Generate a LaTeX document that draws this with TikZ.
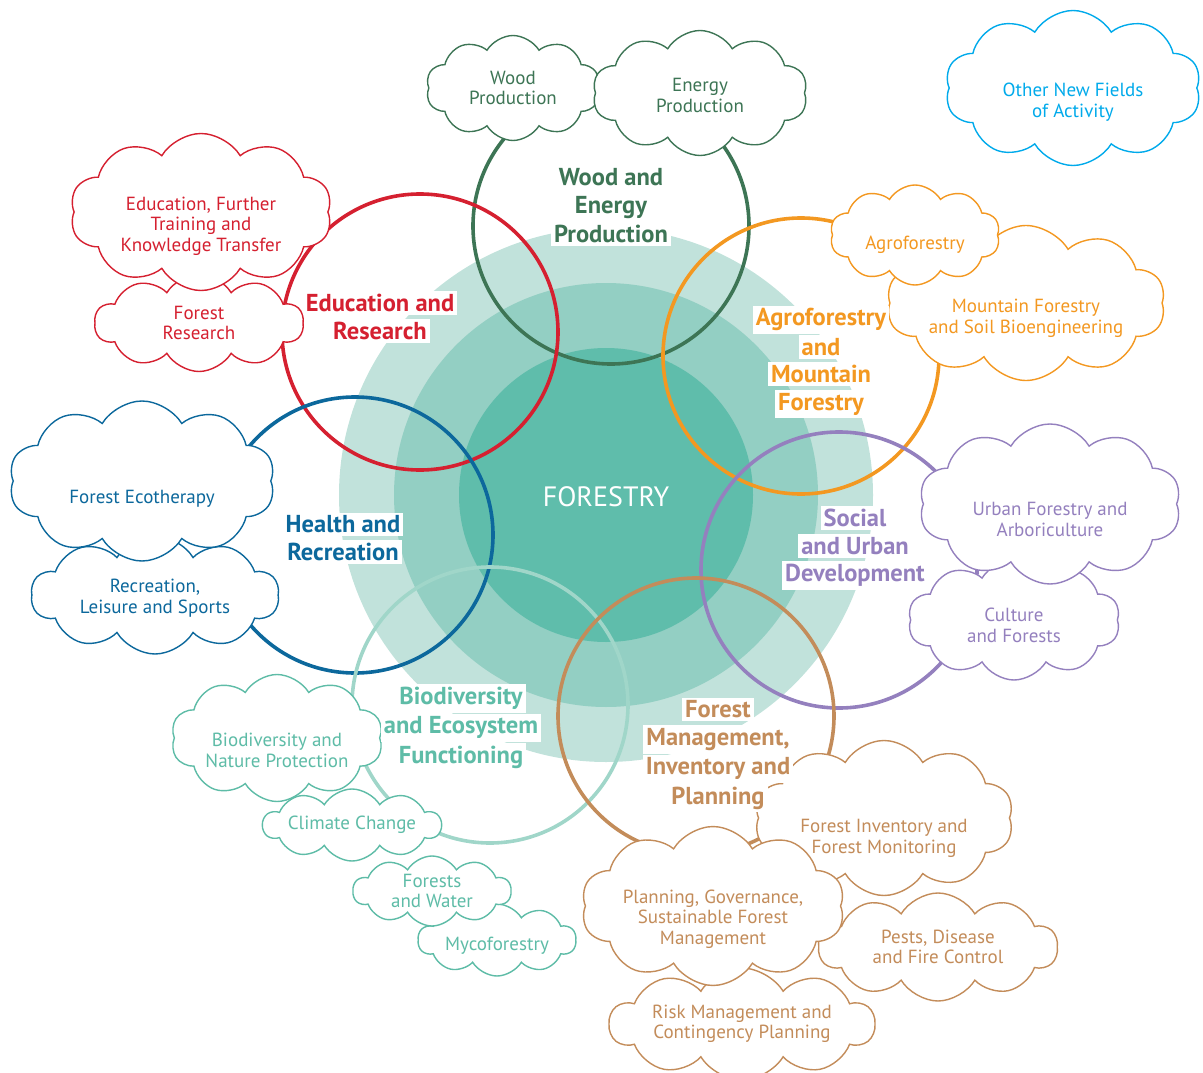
\documentclass[tikz,border=0pt]{standalone}
\usepackage{fontspec}
\setmainfont{PT Sans}
\usepackage{tikz}
\usetikzlibrary{shapes.symbols}

\definecolor{woodgreen}{RGB}{61,117,85}
\definecolor{edured}{RGB}{213,32,48}
\definecolor{agroorange}{RGB}{243,152,33}
\definecolor{healthblue}{RGB}{12,104,156}
\definecolor{socialpurple}{RGB}{148,128,190}
\definecolor{biotealring}{RGB}{160,214,201}
\definecolor{biotealtext}{RGB}{94,188,167}
\definecolor{managetan}{RGB}{195,140,90}
\definecolor{newsky}{RGB}{0,170,235}
\definecolor{disclight}{RGB}{193,226,219}
\definecolor{discmid}{RGB}{147,207,195}
\definecolor{discdark}{RGB}{95,189,171}

\newcommand{\wbox}[1]{\colorbox{white}{#1}}
\newcommand{\sink}[1]{\rule{0pt}{#1}}
\setlength{\fboxsep}{3pt}

\begin{document}
\begin{tikzpicture}[x=1pt, y=-1pt,
  disc/.style = {circle, inner sep=0pt},
  ring/.style = {circle, draw, line width=3.6pt, minimum size=276pt, inner sep=0pt},
  bubble/.style = {cloud, draw, fill=white, line width=1.4pt, cloud puffs=10, cloud puff arc=118, cloud ignores aspect, inner sep=0pt, align=center, font=\fontsize{19}{20.5}\selectfont},
  title/.style = {align=center, inner sep=0pt, font=\bfseries\fontsize{24.5}{27.5}\selectfont}]

\useasboundingbox (0,0) rectangle (1203,1073);

% centre
\node[disc, fill=disclight, minimum size=534pt] (outerdisc) at (606,495) {};
\node[disc, fill=discmid, minimum size=424pt] (middisc) at (606,495) {};
\node[disc, fill=discdark, minimum size=294pt] (innerdisc) at (606,495) {};
\node[text=white, font=\fontsize{28}{32}\selectfont] (forestry) at (606,497) {FORESTRY};

% rings
\node[ring, draw=woodgreen] (woodring) at (611,226) {};
\node[ring, draw=edured] (edring) at (420,332) {};
\node[ring, draw=agroorange] (agroring) at (801,356) {};
\node[ring, draw=healthblue] (healthring) at (355,535) {};
\node[ring, draw=socialpurple] (socialring) at (839,570) {};
\node[ring, draw=biotealring] (bioring) at (490,705) {};
\node[ring, draw=managetan] (managering) at (696,716) {};

% clouds
\node[bubble, draw=woodgreen, text=woodgreen, minimum width=174pt, minimum height=105pt] (woodprod) at (513,88) {Wood\\Production};
\node[bubble, draw=woodgreen, text=woodgreen, minimum width=215pt, minimum height=125pt] (energyprod) at (700,93) {\sink{18pt}Energy\\Production};
\node[bubble, draw=newsky, text=newsky, minimum width=256pt, minimum height=155pt] (otherfields) at (1073,88) {\sink{42pt}Other New Fields\\of Activity};

\node[bubble, draw=edured, text=edured, minimum width=209pt, minimum height=97pt] (research) at (199,323) {Forest\\Research};
\node[bubble, draw=edured, text=edured, minimum width=262pt, minimum height=157pt] (education) at (201,212) {\sink{42pt}Education, Further\\Training and\\Knowledge Transfer};

\node[bubble, draw=agroorange, text=agroorange, minimum width=262pt, minimum height=155pt] (mountain) at (1026,303) {\sink{44pt}Mountain Forestry\\and Soil Bioengineering};
\node[bubble, draw=agroorange, text=agroorange, minimum width=170pt, minimum height=100pt] (agro) at (915,235) {\sink{34pt}Agroforestry};

\node[bubble, draw=healthblue, text=healthblue, minimum width=248pt, minimum height=118pt] (recreation) at (155,595) {\sink{20pt}Recreation,\\Leisure and Sports};
\node[bubble, draw=healthblue, text=healthblue, minimum width=266pt, minimum height=160pt] (ecotherapy) at (142,481) {\sink{48pt}Forest Ecotherapy};

\node[bubble, draw=socialpurple, text=socialpurple, minimum width=212pt, minimum height=120pt] (culture) at (1014,620) {\sink{24pt}Culture\\and Forests};
\node[bubble, draw=socialpurple, text=socialpurple, minimum width=262pt, minimum height=160pt] (urban) at (1050,504) {\sink{44pt}Urban Forestry and\\Arboriculture};

\node[bubble, draw=biotealtext, text=biotealtext, minimum width=158pt, minimum height=72pt] (myco) at (497,940) {\sink{24pt}Mycoforestry};
\node[bubble, draw=biotealtext, text=biotealtext, minimum width=158pt, minimum height=70pt] (water) at (432,891) {Forests\\and Water};
\node[bubble, draw=biotealtext, text=biotealtext, minimum width=178pt, minimum height=72pt] (climate) at (352,825) {Climate Change};
\node[bubble, draw=biotealtext, text=biotealtext, minimum width=212pt, minimum height=127pt] (naturepro) at (277,738) {\sink{38pt}Biodiversity and\\Nature Protection};

\node[bubble, draw=managetan, text=managetan, minimum width=239pt, minimum height=108pt] (pests) at (938,947) {Pests, Disease\\and Fire Control};
\node[bubble, draw=managetan, text=managetan, minimum width=259pt, minimum height=155pt] (inventory) at (884,818) {\sink{54pt}Forest Inventory and\\Forest Monitoring};
\node[bubble, draw=managetan, text=managetan, minimum width=265pt, minimum height=112pt] (risk) at (742,1024) {Risk Management and\\Contingency Planning};
\node[bubble, draw=managetan, text=managetan, minimum width=252pt, minimum height=146pt] (planning) at (713,906) {\sink{40pt}Planning, Governance,\\Sustainable Forest\\Management};

% ring titles
\node[title, text=woodgreen] (woodlbl) at (611,206) {\wbox{Wood and}\\\wbox{Energy}\\\wbox{Production}};
\node[title, text=edured] (edlbl) at (380,317) {\wbox{Education and}\\\wbox{Research}};
\node[title, text=agroorange] (agrolbl) at (821,362) {\wbox{Agroforestry}\\\wbox{and}\\\wbox{Mountain}\\\wbox{Forestry}};
\node[title, text=healthblue] (healthlbl) at (343,538) {\wbox{Health and}\\\wbox{Recreation}};
\node[title, text=socialpurple] (sociallbl) at (855,548) {\wbox{Social}\\\wbox{and Urban}\\\wbox{Development}};
\node[title, text=biotealtext] (biolbl) at (461,728) {\wbox{Biodiversity}\\\wbox{and Ecosystem}\\\wbox{Functioning}};
\node[title, text=managetan] (managelbl) at (718,755) {\wbox{Forest}\\\wbox{Management,}\\\wbox{Inventory and}\\\wbox{Planning}};
\end{tikzpicture}
\end{document}
